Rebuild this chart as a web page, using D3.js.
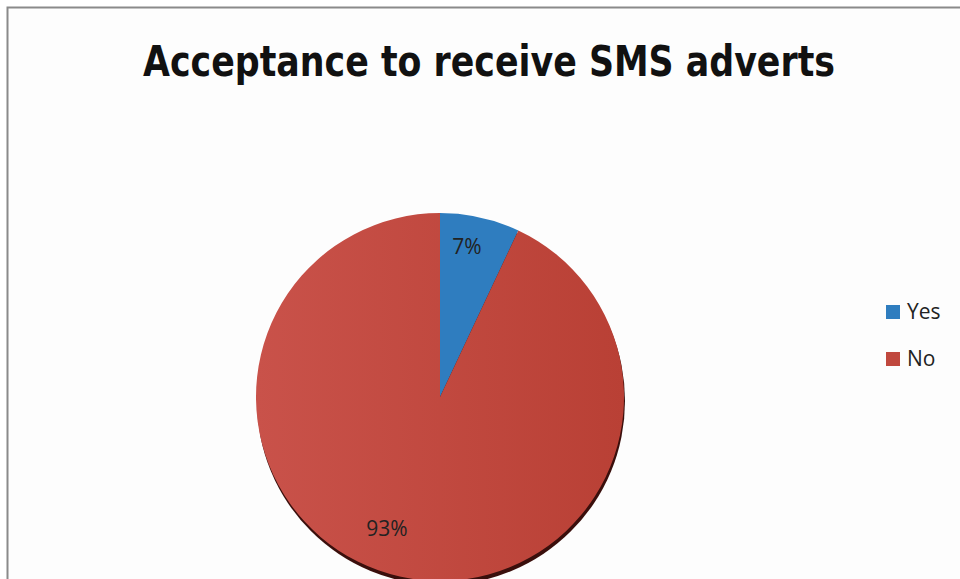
<!DOCTYPE html>
<html>
<head>
<meta charset="utf-8">
<script src="https://cdn.jsdelivr.net/npm/d3@7"></script>
<style>
  body { margin: 0; background: #fff; }
</style>
</head>
<body>
<div id="chart"></div>
<script>
const categories = ['Yes', 'No'];
const values = [7, 93];
const labels = ['7%', '93%'];
const colors = ['#2f7dbf', '#c0483e'];

const width = 960;
const height = 579;

const svg = d3.select('#chart')
  .append('svg')
  .attr('width', width)
  .attr('height', height);

svg.append('rect')
  .attr('x', 7.5).attr('y', 7.5)
  .attr('width', width + 10).attr('height', height + 10)
  .attr('fill', '#fdfdfd')
  .attr('stroke', '#8a8a8a')
  .attr('stroke-width', 2);

svg.append('text')
  .attr('x', 489)
  .attr('y', 76)
  .attr('text-anchor', 'middle')
  .attr('font-family', 'Liberation Sans Narrow, DejaVu Sans Condensed, sans-serif')
  .attr('font-weight', 'bold')
  .attr('font-size', 43)
  .attr('textLength', 692)
  .attr('lengthAdjust', 'spacingAndGlyphs')
  .attr('fill', '#111')
  .text('Acceptance to receive SMS adverts');

const cx = 440, cy = 397, r = 184;

const defs = svg.append('defs');
const grad = defs.append('linearGradient').attr('id', 'redg')
  .attr('x1', '0').attr('x2', '1').attr('y1', '0').attr('y2', '0');
grad.append('stop').attr('offset', '0%').attr('stop-color', '#c9524a');
grad.append('stop').attr('offset', '100%').attr('stop-color', '#b94035');

const pie = d3.pie().sort(null)(values);
const arc = d3.arc().innerRadius(0).outerRadius(r);

const g = svg.append('g').attr('transform', `translate(${cx},${cy})`);

// shadow
g.append('circle')
  .attr('cx', 1).attr('cy', 4).attr('r', r)
  .attr('fill', '#3a0f0c');

g.selectAll('path.slice')
  .data(pie)
  .join('path')
  .attr('class', 'slice')
  .attr('d', arc)
  .attr('fill', (d, i) => i === 1 ? 'url(#redg)' : colors[i]);

const labelPos = [[27, -149], [-53, 133]];
g.selectAll('text.lbl')
  .data(pie)
  .join('text')
  .attr('class', 'lbl')
  .attr('x', (d, i) => labelPos[i][0])
  .attr('y', (d, i) => labelPos[i][1])
  .attr('text-anchor', 'middle')
  .attr('dominant-baseline', 'middle')
  .attr('font-family', 'Open Sans, sans-serif')
  .attr('font-size', 21)
  .attr('fill', '#222')
  .text((d, i) => labels[i]);

const legend = svg.append('g').attr('transform', 'translate(886,305)');
const item = legend.selectAll('g')
  .data(categories)
  .join('g')
  .attr('transform', (d, i) => `translate(0,${i * 47})`);
item.append('rect')
  .attr('width', 14).attr('height', 14)
  .attr('fill', (d, i) => colors[i]);
item.append('text')
  .attr('x', 21).attr('y', 8)
  .attr('dominant-baseline', 'middle')
  .attr('font-family', 'Open Sans, sans-serif')
  .attr('font-size', 21)
  .attr('fill', '#222')
  .text(d => d);
</script>
</body>
</html>
